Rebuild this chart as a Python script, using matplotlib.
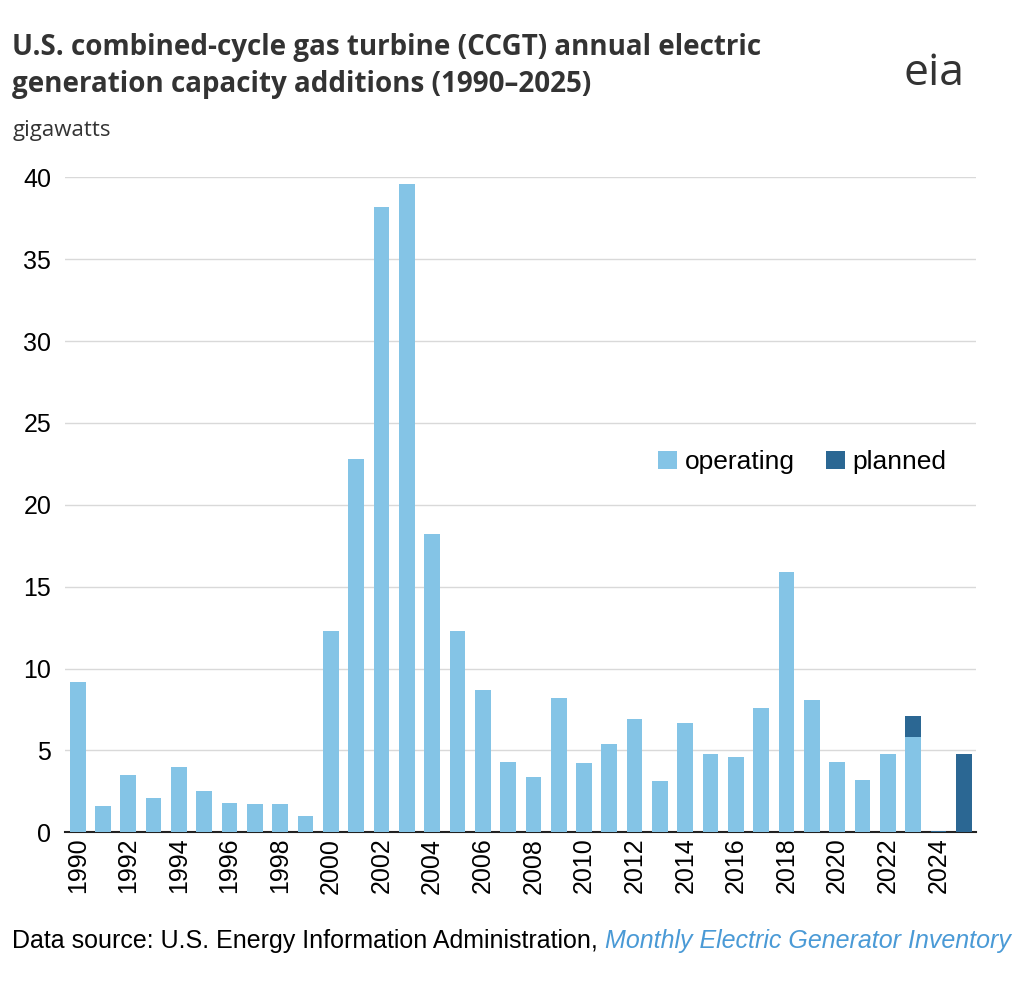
import numpy as np
import matplotlib
matplotlib.use('Agg')
import matplotlib.pyplot as plt

plt.rcParams['font.family'] = ['Liberation Sans', 'DejaVu Sans']

years = list(range(1990, 2026))
operating = [9.2, 1.6, 3.5, 2.1, 4.0, 2.5, 1.8, 1.7, 1.7, 1.0,
             12.3, 22.8, 38.2, 39.6, 18.2, 12.3, 8.7, 4.3, 3.4, 8.2,
             4.2, 5.4, 6.9, 3.1, 6.7, 4.8, 4.6, 7.6, 15.9, 8.1,
             4.3, 3.2, 4.8, 5.8, 0.0, 0.0]
planned = [0.0] * 33 + [1.3, 0.1, 4.8]

light = '#84c4e6'
dark = '#2b6793'

fig = plt.figure(figsize=(10.24, 9.86), dpi=100)
ax = fig.add_axes([0.0635, 0.156, 0.89, 0.664])

x = np.arange(len(years))
ax.bar(x, operating, 0.62, color=light, label='operating', zorder=3)
ax.bar(x, planned, 0.62, bottom=operating, color=dark, label='planned', zorder=3)

ax.set_xlim(-0.5, len(years) - 0.5)
ax.set_ylim(0, 40)
ax.set_yticks(range(0, 41, 5))
ax.set_xticks(x[::2])
ax.set_xticklabels([str(y) for y in years[::2]], rotation=90, fontsize=18)
ax.tick_params(axis='y', labelsize=18, length=0, pad=10)
ax.tick_params(axis='x', length=0, pad=4)
ax.grid(axis='y', color='#d9d9d9', lw=1, zorder=0)
for s in ['top', 'right', 'left']:
    ax.spines[s].set_visible(False)
ax.spines['bottom'].set_color('#222222')
ax.spines['bottom'].set_linewidth(1.5)

ax.legend(loc='center left', bbox_to_anchor=(0.625, 0.565), ncol=2, frameon=False,
          fontsize=19, handlelength=0.7, handleheight=0.7, handletextpad=0.3, columnspacing=1.2)

fig.text(0.012, 0.933, 'U.S. combined-cycle gas turbine (CCGT) annual electric\ngeneration capacity additions (1990–2025)',
         fontsize=20, fontweight='bold', color='#333333', va='center', linespacing=1.35,
         family=['Open Sans', 'DejaVu Sans'])
fig.text(0.012, 0.868, 'gigawatts', fontsize=16, color='#333333', va='center',
         family=['Open Sans', 'DejaVu Sans'])
fig.text(0.912, 0.925, 'eia', fontsize=32, color='#333333', ha='center', va='center',
         family=['Open Sans', 'DejaVu Sans'])
src = fig.text(0.012, 0.046, 'Data source: U.S. Energy Information Administration, ', fontsize=18, va='center')
fig.canvas.draw()
bb = src.get_window_extent().transformed(fig.transFigure.inverted())
fig.text(bb.x1, 0.046, 'Monthly Electric Generator Inventory', fontsize=18, va='center',
         style='italic', color='#4a9ad6')

fig.savefig('out.png', dpi=100)
